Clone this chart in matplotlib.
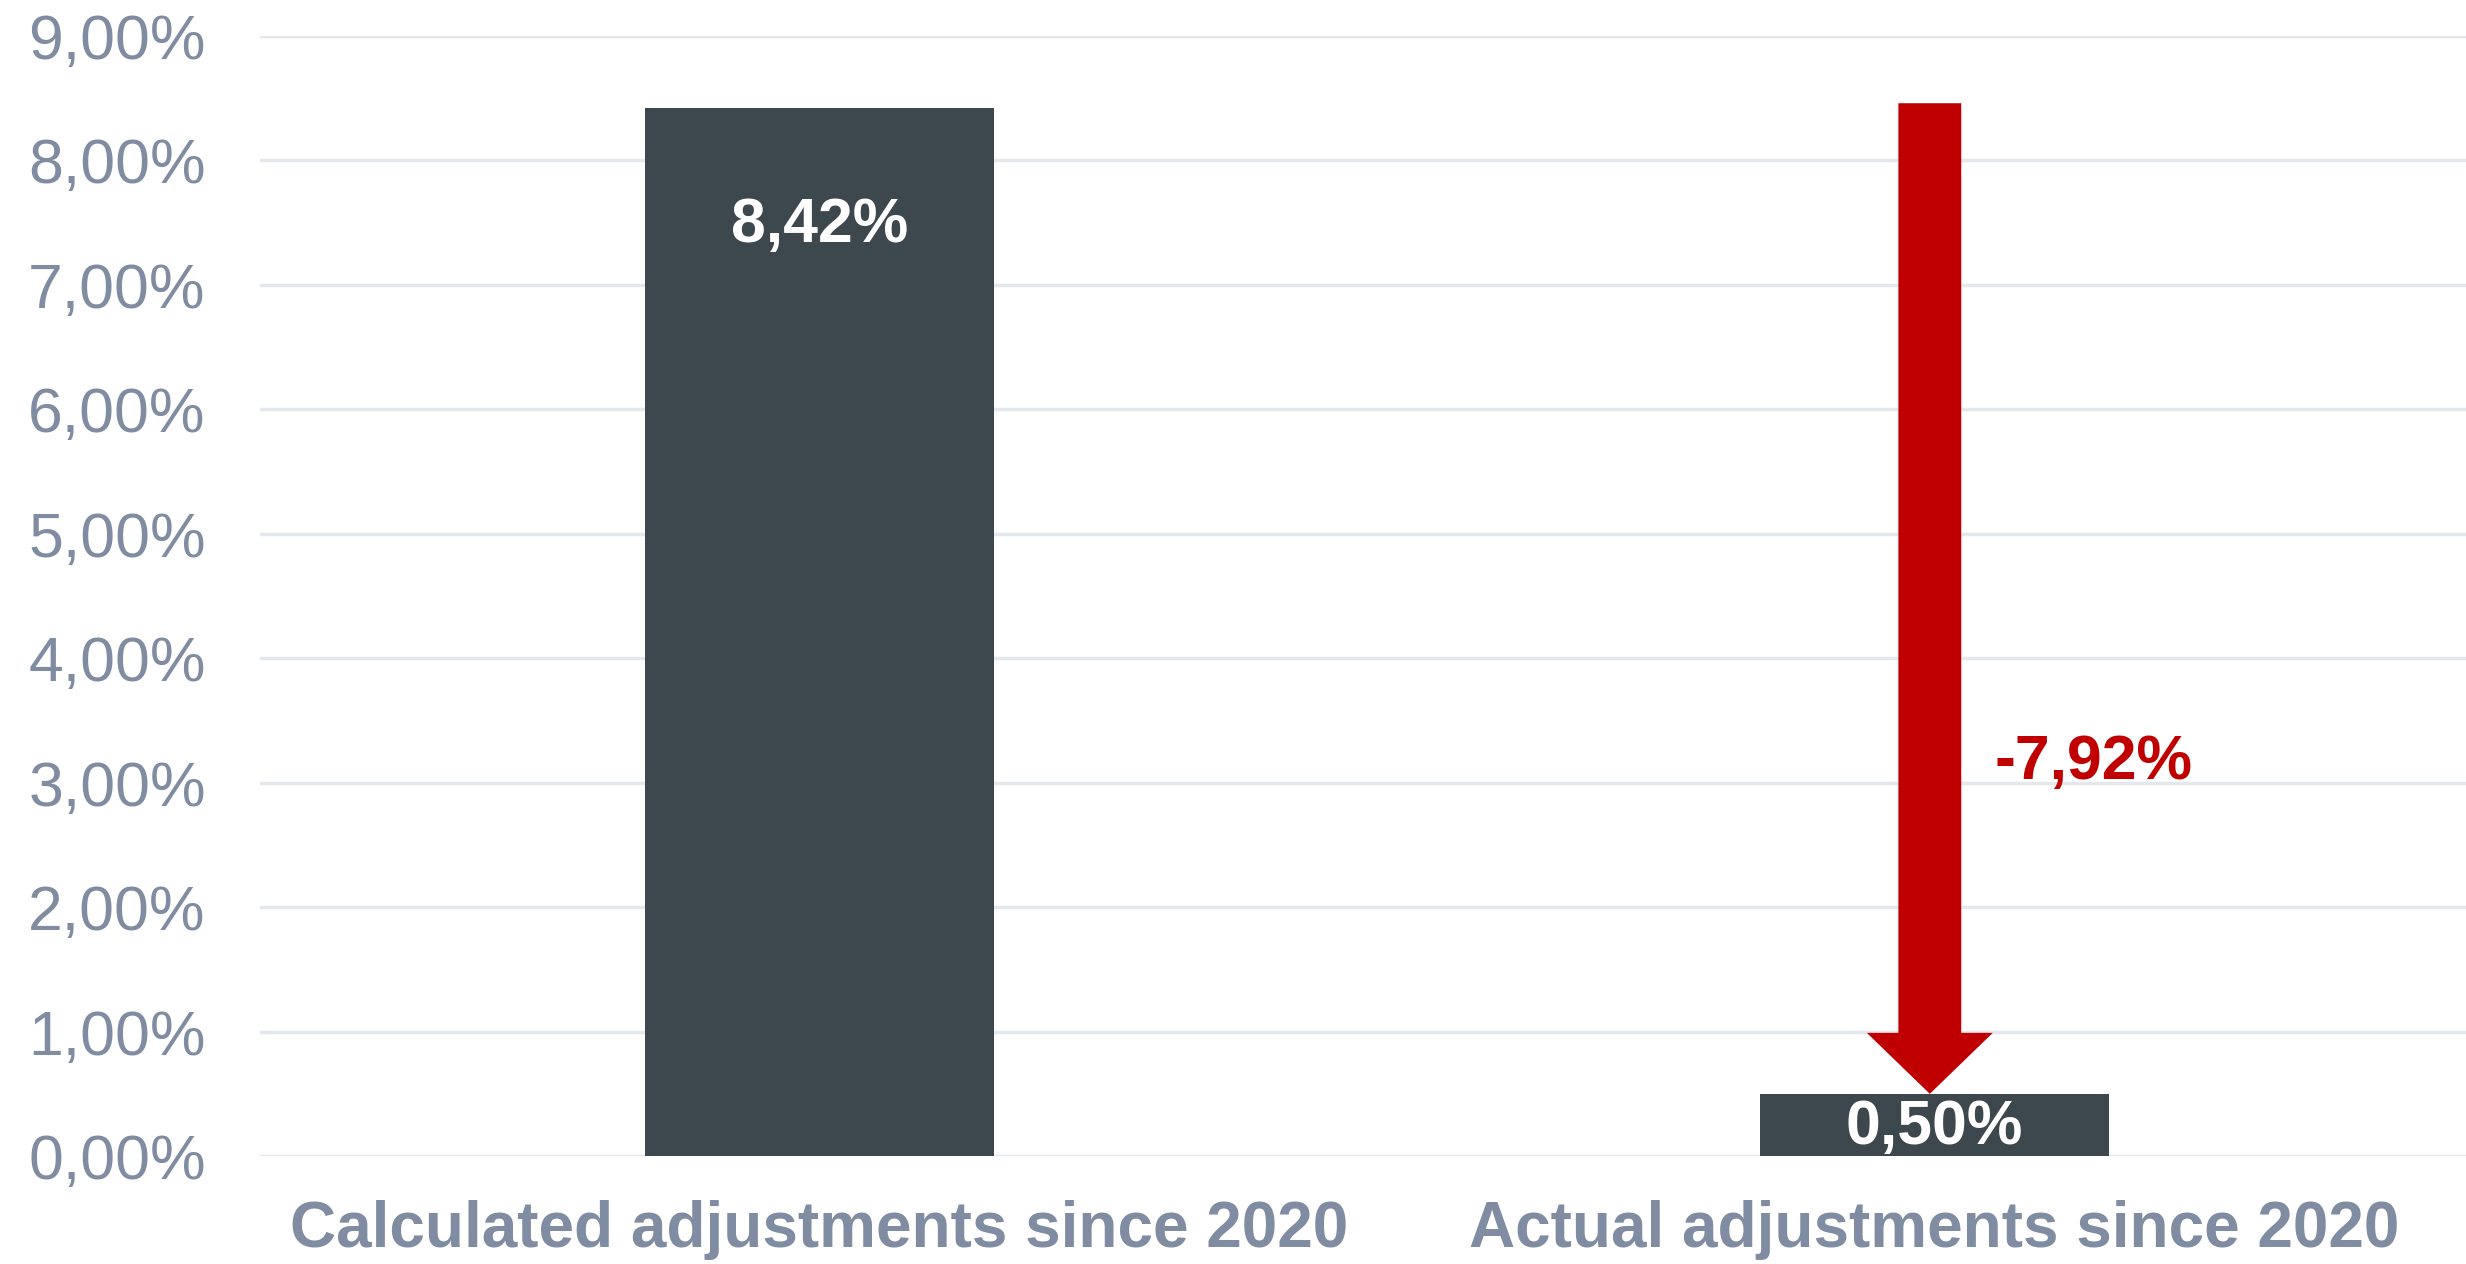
import matplotlib
matplotlib.use("Agg")
import matplotlib.pyplot as plt
from matplotlib.patches import FancyArrow

categories = ["Calculated adjustments since 2020", "Actual adjustments since 2020"]
values = [8.42, 0.50]
difference = -7.92
yticks = [0, 1, 2, 3, 4, 5, 6, 7, 8, 9]
arrow_top = 8.46

BAR_COLOUR = "#3D474E"
RED = "#C00000"
TICK_COLOUR = "#7F8CA1"
GRID_COLOUR = "#E4E7EC"


def pct(v):
    return f"{v:.2f}%".replace(".", ",")


plt.rcParams["font.family"] = ["Liberation Sans", "DejaVu Sans"]

fig = plt.figure(figsize=(24.66, 12.64), dpi=100)
ax = fig.add_axes([0.1054, 0.0854, 0.8946, 0.8861])

x = list(range(len(categories)))
ax.bar(x, values, width=0.313, color=BAR_COLOUR, zorder=2)

ax.set_xlim(-0.502, 1.477)
ax.set_ylim(0, 9)
ax.set_yticks(yticks)
ax.set_yticklabels([pct(t) for t in yticks])
ax.set_xticks(x)
ax.set_xticklabels(categories, fontweight="bold")
ax.tick_params(axis="y", length=0, pad=39, labelsize=45, labelcolor=TICK_COLOUR)
ax.tick_params(axis="x", length=0, pad=32, labelsize=46, labelcolor=TICK_COLOUR)
ax.grid(axis="y", color=GRID_COLOUR, linewidth=2.5, zorder=0)
for s in ax.spines.values():
    s.set_visible(False)

# bar value labels
ax.text(x[0], 7.48, pct(values[0]), ha="center", va="center",
        color="white", fontsize=45, fontweight="bold", zorder=4)
ax.text(x[1], values[1] / 2 - 0.02, pct(values[1]), ha="center", va="center",
        color="white", fontsize=45, fontweight="bold", zorder=4)

# red arrow from the calculated level down to the actual value
arrow = FancyArrow(0.996, arrow_top, 0, values[1] - arrow_top, width=0.0564,
                   head_width=0.113, head_length=0.49, length_includes_head=True,
                   color=RED, linewidth=0, zorder=3)
ax.add_patch(arrow)
ax.text(1.143, 3.16, pct(difference), ha="center", va="center",
        color=RED, fontsize=45, fontweight="bold", zorder=4)

fig.savefig("out.png", dpi=100, facecolor="white")
